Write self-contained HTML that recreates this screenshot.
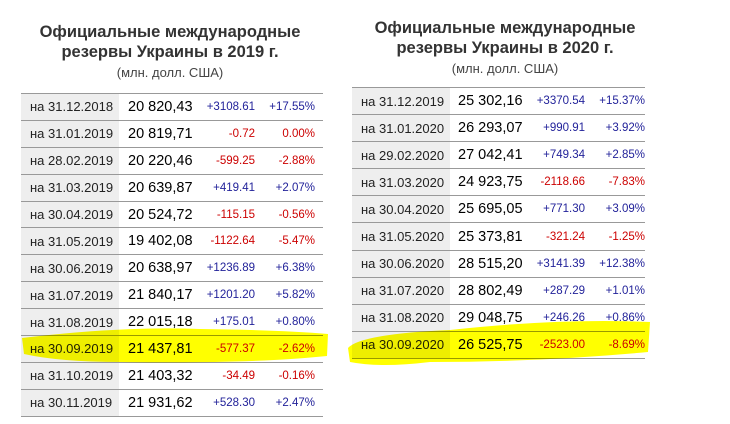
<!DOCTYPE html>
<html><head><meta charset="utf-8"><style>
body{margin:0;width:730px;height:424px;background:#fff;position:relative;overflow:hidden;font-family:"Liberation Sans",Arial,sans-serif}
.t{position:absolute;text-align:center;color:#222}
.t b{display:block;font-size:16.5px;line-height:20px;color:#333}
.t span{display:block;font-size:13px;color:#444;margin-top:3px}
.tab{position:absolute;border-top:1px solid #999}
.r{position:relative;border-bottom:1px solid #999;white-space:nowrap}
.r div{position:absolute;top:0;height:100%;display:flex;align-items:center}
.d{left:0;background:#eee;font-size:13px;color:#222;justify-content:flex-start}
.v{font-size:14.5px;color:#000}
.c,.p{font-size:11.5px;justify-content:flex-end}
.pos{color:#22229a}.neg{color:#c00}
svg{position:absolute;left:0;top:0;mix-blend-mode:multiply}
</style></head><body>
<div class="t" style="left:20px;width:300px;top:22px"><b>Официальные международные<br>резервы Украины в 2019 г.</b><span>(млн. долл. США)</span></div>
<div class="t" style="left:350px;width:310px;top:18px"><b>Официальные международные<br>резервы Украины в 2020 г.</b><span>(млн. долл. США)</span></div>

<div class="tab" style="left:21px;top:93px;width:302px" id="L"></div>
<div class="tab" style="left:352px;top:87px;width:293px" id="R"></div>

<svg width="730" height="424">
<path d="M22 338 Q120 326 200 329 Q280 330 328 334 L327 356 Q250 364 120 362 Q60 362 24 354 Z" fill="#ffff00"/>
<path d="M348 348 Q360 334 450 330 Q560 318 650 322 L648 352 Q540 362 430 362 Q380 368 350 362 Z" fill="#ffff00"/>
</svg>
<script>
function build(id,rows,h,dw,vx,cr,pr){
 var el=document.getElementById(id),s='';
 rows.forEach(function(r){
  var cl=r[2][0]=='-'?'neg':'pos';
  var cp=r[3][0]=='-'||r[3]=='0.00%'?'neg':'pos';
  s+='<div class="r" style="height:'+(h-1)+'px"><div class="d" style="width:'+dw+'px;padding-left:9px;box-sizing:border-box">на '+r[0]+'</div><div class="v" style="left:'+vx+'px">'+r[1]+'</div><div class="c '+cl+'" style="right:'+cr+'px">'+r[2]+'</div><div class="p '+cp+'" style="right:'+pr+'px">'+r[3]+'</div></div>';
 });
 el.innerHTML=s;
}
build('L',[
['31.12.2018','20 820,43','+3108.61','+17.55%'],
['31.01.2019','20 819,71','-0.72','0.00%'],
['28.02.2019','20 220,46','-599.25','-2.88%'],
['31.03.2019','20 639,87','+419.41','+2.07%'],
['30.04.2019','20 524,72','-115.15','-0.56%'],
['31.05.2019','19 402,08','-1122.64','-5.47%'],
['30.06.2019','20 638,97','+1236.89','+6.38%'],
['31.07.2019','21 840,17','+1201.20','+5.82%'],
['31.08.2019','22 015,18','+175.01','+0.80%'],
['30.09.2019','21 437,81','-577.37','-2.62%'],
['31.10.2019','21 403,32','-34.49','-0.16%'],
['30.11.2019','21 931,62','+528.30','+2.47%']],26.9,98,107,68,8);
build('R',[
['31.12.2019','25 302,16','+3370.54','+15.37%'],
['31.01.2020','26 293,07','+990.91','+3.92%'],
['29.02.2020','27 042,41','+749.34','+2.85%'],
['31.03.2020','24 923,75','-2118.66','-7.83%'],
['30.04.2020','25 695,05','+771.30','+3.09%'],
['31.05.2020','25 373,81','-321.24','-1.25%'],
['30.06.2020','28 515,20','+3141.39','+12.38%'],
['31.07.2020','28 802,49','+287.29','+1.01%'],
['31.08.2020','29 048,75','+246.26','+0.86%'],
['30.09.2020','26 525,75','-2523.00','-8.69%']],27.1,98,106,60,0);
</script>
</body></html>
